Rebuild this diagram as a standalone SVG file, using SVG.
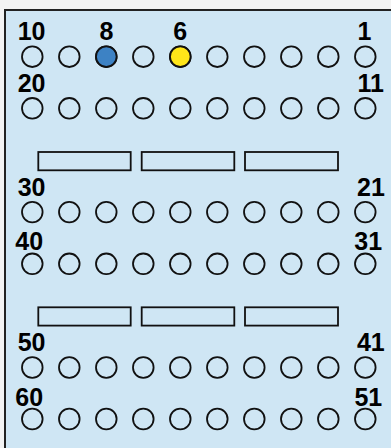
<svg xmlns="http://www.w3.org/2000/svg" width="391" height="448" viewBox="0 0 391 448">
<style>
.pin{fill:none;stroke:#111;stroke-width:1.8}
.slot{fill:none;stroke:#111;stroke-width:1.8}
.lbl{font-family:"Liberation Sans",Arial,sans-serif;font-weight:bold;font-size:25px;fill:#000;text-anchor:middle}
</style>
<defs>
<g id="row">
<circle class="pin" cx="32.3" cy="0" r="10.3"/>
<circle class="pin" cx="69.3" cy="0" r="10.3"/>
<circle class="pin" cx="106.3" cy="0" r="10.3"/>
<circle class="pin" cx="143.3" cy="0" r="10.3"/>
<circle class="pin" cx="180.3" cy="0" r="10.3"/>
<circle class="pin" cx="217.3" cy="0" r="10.3"/>
<circle class="pin" cx="254.3" cy="0" r="10.3"/>
<circle class="pin" cx="291.3" cy="0" r="10.3"/>
<circle class="pin" cx="328.3" cy="0" r="10.3"/>
<circle class="pin" cx="365.3" cy="0" r="10.3"/>
</g>
<g id="slots">
<rect class="slot" x="38.3" y="0" width="92.4" height="18.3"/>
<rect class="slot" x="141.7" y="0" width="92.6" height="18.3"/>
<rect class="slot" x="245" y="0" width="93" height="18.3"/>
</g>
</defs>
<rect x="0" y="0" width="391" height="448" fill="#f3f3f3"/>
<g id="housing">
<rect x="5" y="10" width="400" height="450" fill="#cfe6f4" stroke="#222" stroke-width="2"/>
</g>
<g id="connectors"></g>
<g id="row-1-10">
<use href="#row" y="56.7"/>
<circle cx="106.3" cy="56.7" r="10.3" fill="#3d82c4" stroke="#111" stroke-width="1.8"/>
<circle cx="180.3" cy="56.7" r="10.3" fill="#ffe619" stroke="#111" stroke-width="1.8"/>
<text class="lbl" x="31.6" y="40">10</text>
<text class="lbl" x="106.5" y="40">8</text>
<text class="lbl" x="180.3" y="40">6</text>
<text class="lbl" x="364.5" y="40">1</text>
</g>
<g id="row-11-20">
<use href="#row" y="108.3"/>
<text class="lbl" x="31.6" y="91.7">20</text>
<text class="lbl" x="370.6" y="91.7">11</text>
</g>
<g id="slots-upper">
<use href="#slots" y="152"/>
</g>
<g id="row-21-30">
<use href="#row" y="212.1"/>
<text class="lbl" x="31.6" y="195.7">30</text>
<text class="lbl" x="371" y="195.7">21</text>
</g>
<g id="row-31-40">
<use href="#row" y="263.8"/>
<text class="lbl" x="29.2" y="250.3">40</text>
<text class="lbl" x="368.2" y="250.3">31</text>
</g>
<g id="slots-lower">
<use href="#slots" y="307.3"/>
</g>
<g id="row-41-50">
<use href="#row" y="367.5"/>
<text class="lbl" x="31.6" y="351">50</text>
<text class="lbl" x="370.8" y="351">41</text>
</g>
<g id="row-51-60">
<use href="#row" y="419"/>
<text class="lbl" x="29.2" y="406">60</text>
<text class="lbl" x="368.3" y="406">51</text>
</g>
</svg>
